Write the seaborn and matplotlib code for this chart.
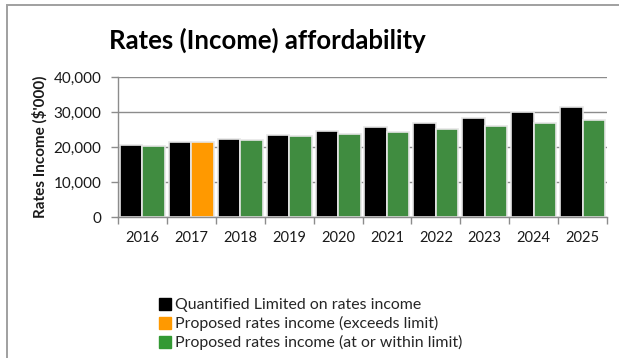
import matplotlib
matplotlib.use("Agg")
import matplotlib.pyplot as plt
from matplotlib.patches import Rectangle
from matplotlib.lines import Line2D
from matplotlib.ticker import FuncFormatter, MultipleLocator
import seaborn as sns
import pandas as pd

years = ["2016", "2017", "2018", "2019", "2020", "2021", "2022", "2023", "2024", "2025"]
limit_income = [20500, 21400, 22300, 23400, 24500, 25700, 26950, 28450, 29900, 31500]
proposed_income = [20400, 21450, 22100, 23150, 23800, 24450, 25200, 26000, 26750, 27600]

limit_label = "Quantified Limited on rates income"
exceeds_label = "Proposed rates income (exceeds limit)"
within_label = "Proposed rates income (at or within limit)"

c_limit = "#000000"
c_exceeds = "#FF9900"
c_within = "#339933"

sns.set_theme(style="white")
plt.rcParams["font.family"] = ["Lato", "DejaVu Sans"]

df = pd.DataFrame({
    "year": years * 2,
    "series": ["limit"] * len(years) + ["proposed"] * len(years),
    "income": limit_income + proposed_income,
})

fig = plt.figure(figsize=(6.19, 3.58), dpi=100)
ax = fig.add_axes([118 / 619, 1 - 217.3 / 358, (607 - 118) / 619, (217.3 - 77) / 358])

sns.barplot(data=df, x="year", y="income", hue="series", hue_order=["limit", "proposed"],
            palette={"limit": c_limit, "proposed": c_within}, width=0.92,
            edgecolor="#e6e6e6", linewidth=1.2, legend=False, ax=ax)

# proposed bars above the limit are shown in orange
n = len(years)
for i, (lim, prop) in enumerate(zip(limit_income, proposed_income)):
    if prop > lim:
        ax.patches[n + i].set_facecolor(c_exceeds)

ax.set_ylim(0, 40000)
ax.set_xlim(-0.5, n - 0.5)
ax.yaxis.set_major_locator(MultipleLocator(10000))
ax.yaxis.set_major_formatter(FuncFormatter(lambda v, p: f"{int(v):,}"))
ax.grid(axis="y", color="#8c8c8c", linewidth=1.0)
ax.set_axisbelow(True)
for s in ["top", "right"]:
    ax.spines[s].set_visible(False)
for s in ["left", "bottom"]:
    ax.spines[s].set_color("#8c8c8c")
    ax.spines[s].set_linewidth(1.0)

# x ticks sit between year groups; labels sit at group centres
ax.set_xticks([i - 0.5 for i in range(n + 1)], minor=False)
ax.set_xticklabels([])
ax.set_xticks(range(n), minor=True)
ax.set_xticklabels(years, minor=True, fontsize=10.5, color="#1a1a1a")
ax.tick_params(axis="x", which="major", length=5, color="#8c8c8c", width=1, bottom=True)
ax.tick_params(axis="x", which="minor", length=0, pad=10)
ax.tick_params(axis="y", length=5, color="#8c8c8c", width=1, left=True, labelsize=11,
               labelcolor="#1a1a1a", pad=7)

ax.set_xlabel("")
ax.set_ylabel("Rates Income ($'000)", fontsize=11, fontweight="bold", color="#1a1a1a", labelpad=4)

fig.text(267 / 619, 1 - 40 / 358, "Rates (Income) affordability", ha="center", va="center",
         fontsize=18.5, fontweight="bold", color="#000000")

handles = [
    Line2D([], [], marker="s", linestyle="none", markersize=8.5, color=c_limit, label=limit_label),
    Line2D([], [], marker="s", linestyle="none", markersize=8.5, color=c_exceeds, label=exceeds_label),
    Line2D([], [], marker="s", linestyle="none", markersize=8.5, color=c_within, label=within_label),
]
fig.legend(handles=handles, loc="upper left", bbox_to_anchor=(159 / 619, 1 - 298 / 358),
           frameon=False, fontsize=11.4, handlelength=0.8, handletextpad=0.2,
           labelspacing=0.25, borderaxespad=0, borderpad=0)

fig.patches.append(Rectangle((6.5 / 619, -0.2), 1.2, (1 - 4.5 / 358) + 0.2,
                             transform=fig.transFigure, fill=False,
                             edgecolor="#a0a0a0", linewidth=1.4))

fig.savefig("out.png", dpi=100)
